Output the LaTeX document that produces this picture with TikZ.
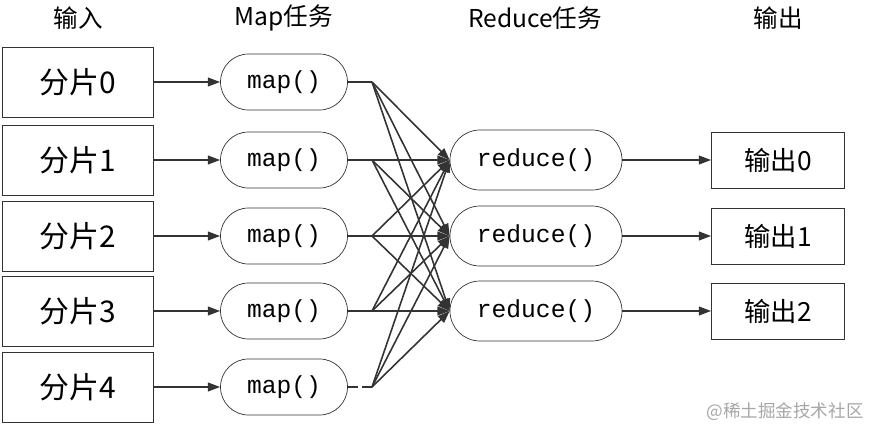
\documentclass[tikz,border=0pt]{standalone}
\usepackage{fontspec}
\setmainfont{Liberation Serif}
\newfontfamily\cjk{Noto Sans CJK SC}
\newfontfamily\mono{Liberation Mono}
\usetikzlibrary{arrows.meta}
\begin{document}
\begin{tikzpicture}[x=0.02cm,y=-0.02cm,
  inp/.style={draw=black!80,minimum width=151*0.02cm,minimum height=70*0.02cm,font=\cjk\fontsize{17pt}{19pt}\selectfont},
  mp/.style={draw=black!80,rounded corners=28*0.02cm,minimum width=127*0.02cm,minimum height=56*0.02cm,font=\mono\fontsize{14pt}{16pt}\selectfont},
  rd/.style={draw=black!80,rounded corners=30*0.02cm,minimum width=172*0.02cm,minimum height=60*0.02cm,font=\mono\fontsize{14pt}{16pt}\selectfont},
  outb/.style={draw=black!80,minimum width=133*0.02cm,minimum height=56*0.02cm,font=\cjk\fontsize{15pt}{17pt}\selectfont},
  hd/.style={font=\cjk\fontsize{14pt}{16pt}\selectfont},
  arr/.style={draw=black!80,line width=0.9pt,-{Triangle[length=7pt,width=5pt]}},
  ln/.style={draw=black!80,line width=0.9pt}]
\useasboundingbox (0,0) rectangle (870,430);
\node[hd] (h1) at (78,18) {输入};
\node[hd] (h2) at (284,18) {Map任务};
\node[hd] (h3) at (535,18) {Reduce任务};
\node[hd] (h4) at (778,18) {输出};
\foreach \i/\y in {0/82,1/160,2/236,3/311,4/387}{
  \node[inp] (i\i) at (78,\y) {分片\i};
  \node[mp] (m\i) at (284,\y) {map()};
  \coordinate (s\i) at (372,\y);
  \draw[arr] (i\i) -- (m\i);
}
\foreach \i in {0,1,2,3} \draw[ln] (m\i) -- (s\i);
\draw[ln,dash pattern=on 6pt off 2pt] (m4) -- (s4);
\foreach \j/\y in {0/160,1/236,2/311}{
  \node[rd] (r\j) at (536,\y) {reduce()};
  \node[outb] (o\j) at (778,\y) {输出\j};
  \draw[arr] (r\j) -- (o\j);
}
\foreach \i in {0,...,4}
  \foreach \j in {0,1,2}
    \draw[arr] (s\i) -- (r\j.west);
\node[font=\cjk\fontsize{10pt}{12pt}\selectfont,text=black!35] (wm) at (785,412) {@稀土掘金技术社区};
\end{tikzpicture}
\end{document}
